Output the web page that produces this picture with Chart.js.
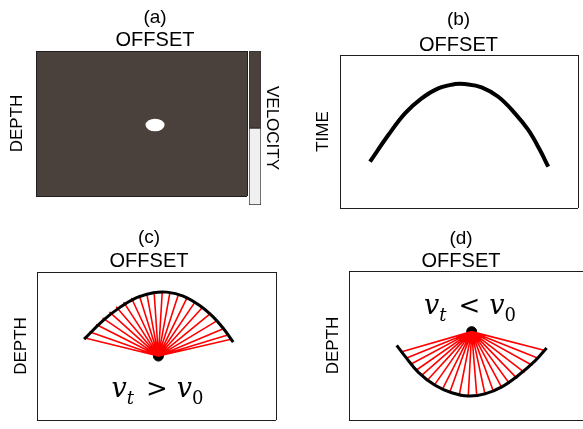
<!DOCTYPE html>
<html lang="en">
<head>
<meta charset="utf-8">
<title>Migration sketch</title>
<script src="https://cdn.jsdelivr.net/npm/chart.js@4.4.0/dist/chart.umd.min.js"></script>
<style>
  html, body { margin: 0; padding: 0; background: #fff; overflow: hidden; width: 583px; height: 429px; }
  canvas { position: absolute; }
</style>
</head>
<body>
<canvas id="panelA" width="296" height="206" style="left:7px;top:0px"></canvas>
<canvas id="barraA" width="33" height="158" style="left:249px;top:49px"></canvas>
<canvas id="panelB" width="291" height="210" style="left:313px;top:0px"></canvas>
<canvas id="panelC" width="276" height="206" style="left:11px;top:220px"></canvas>
<canvas id="panelD" width="276" height="206" style="left:323px;top:220px"></canvas>
<script>
// (a) modelo de velocidad: fondo + anomalia
const anomaliaX = [56.4];
const anomaliaY = [51];
const barraVelocidad = [0.5, 0.5]; // claro abajo, oscuro arriba

// (b) curva de tiempo
const offsetB = [12.6, 20.3, 27.3, 34.3, 41.3, 48.3, 52.5, 59.5, 66.5, 73.5, 79.1, 84.0, 87.5];
const tiempoB = [69.7, 52.3, 38.1, 28.3, 21.8, 19.0, 19.0, 21.1, 27.3, 38.1, 49.0, 62.1, 73.0];

// (c) vt > v0
const offsetC = [19.7, 27.7, 34.7, 41.7, 48.7, 54.3, 61.2, 68.2, 73.8, 78.0, 82.1];
const profC = [45.4, 32.7, 23.9, 17.3, 14.0, 13.6, 16.3, 22.8, 30.5, 38.2, 47.4];
const fuenteC = [50.8, 56.8];
const rayoXC = [20.1, 22.2, 25.0, 27.7, 30.5, 33.3, 36.4, 39.6, 42.8, 45.9, 49.0, 52.4, 55.6, 59.1, 62.6, 65.8, 68.9, 72.0, 74.9, 77.7, 79.8, 81.2];
const rayoYC = [44.6, 40.6, 35.7, 31.3, 27.3, 23.8, 20.7, 17.9, 15.9, 14.5, 13.7, 13.5, 14.1, 15.6, 18.0, 21.0, 24.5, 28.8, 33.4, 38.5, 42.6, 45.5];

// (d) vt < v0
const offsetD = [19.8, 23.2, 28.8, 35.7, 42.6, 49.5, 56.4, 63.4, 70.2, 77.2, 82.0];
const profD = [49.9, 57.1, 68.0, 76.7, 81.7, 83.9, 82.5, 77.8, 70.1, 60.3, 51.6];
const fuenteD = [50.9, 40.7];
const rayoXD = [21.9, 23.9, 26.0, 28.3, 30.5, 32.9, 35.7, 38.9, 41.9, 45.8, 49.5, 53.0, 56.4, 59.9, 63.4, 66.5, 69.6, 72.6, 75.8, 78.5, 81.3];
const rayoYD = [54.2, 58.4, 62.2, 66.1, 69.5, 72.7, 75.9, 78.9, 81.1, 82.9, 83.7, 83.4, 82.4, 80.7, 78.2, 75.3, 71.9, 67.9, 63.1, 58.5, 53.3];

const OSCURO = "#4a403c";
const CLARO = "#f0f0f0";
const BORDE = "#1e1e1e";

Chart.defaults.font.family = '"Liberation Sans", Arial, sans-serif';
Chart.defaults.color = "#000";
Chart.defaults.animation = false;
Chart.defaults.events = [];
Chart.defaults.plugins.legend.display = false;
Chart.defaults.plugins.tooltip.enabled = false;

const puntos = (xs, ys) => xs.map((x, i) => ({ x, y: ys[i] }));

function abanico(fuente, xs, ys) {
  const out = [];
  xs.forEach((x, i) => {
    out.push({ x: fuente[0], y: fuente[1] }, { x, y: ys[i] });
  });
  return out;
}

// pinta el fondo del area del grafico
const fondoArea = {
  id: "fondoArea",
  beforeDraw(chart, args, opts) {
    if (!opts.color) return;
    const { ctx, chartArea: a } = chart;
    ctx.save();
    ctx.fillStyle = opts.color;
    ctx.fillRect(a.left, a.top, a.right - a.left, a.bottom - a.top);
    ctx.restore();
  },
};

// texto v_t > v_0 con subindices
const rotuloVel = {
  id: "rotuloVel",
  afterDatasetsDraw(chart, args, opts) {
    const { ctx, scales } = chart;
    const cx = scales.x.getPixelForValue(opts.x);
    const base = scales.y.getPixelForValue(opts.y);
    const serif = '"DejaVu Serif", "Liberation Serif", serif';
    const piezas = [
      { t: "v", f: "italic 27px " + serif, dy: 0, sep: 0 },
      { t: "t", f: "italic 18px " + serif, dy: 7, sep: 12 },
      { t: opts.rel, f: "26px " + serif, dy: 0, sep: 9 },
      { t: "v", f: "italic 27px " + serif, dy: 0, sep: 0 },
      { t: "0", f: "18px " + serif, dy: 7, sep: 0 },
    ];
    ctx.save();
    ctx.fillStyle = "#000";
    ctx.textBaseline = "alphabetic";
    ctx.textAlign = "left";
    let total = 0;
    piezas.forEach((p) => {
      ctx.font = p.f;
      p.w = ctx.measureText(p.t).width;
      total += p.w + p.sep;
    });
    let x = cx - total / 2;
    piezas.forEach((p) => {
      ctx.font = p.f;
      ctx.fillText(p.t, x, base + p.dy);
      x += p.w + p.sep;
    });
    ctx.restore();
  },
};

function ejes(nombreY, anchoIzq, anchoDer) {
  return {
    x: {
      type: "linear", min: 0, max: 100, position: "bottom",
      ticks: { display: false, stepSize: 100 },
      grid: { color: BORDE, drawTicks: false },
      border: { display: false },
      afterFit: (s) => { s.height = 0; },
    },
    y: {
      type: "linear", min: 0, max: 100, reverse: true,
      ticks: { display: false, stepSize: 100 },
      grid: { color: BORDE, drawTicks: false },
      border: { display: false },
      title: { display: true, text: nombreY, font: { size: 17 }, padding: 0 },
      afterFit: (s) => { s.width = anchoIzq; },
    },
    derecha: {
      axis: "y", type: "linear", position: "right", min: 0, max: 1,
      ticks: { display: false },
      grid: { display: false },
      border: { display: false },
      afterFit: (s) => { s.width = anchoDer; },
    },
  };
}

function titulos(letra, padT, padS, padSB) {
  return {
    title: {
      display: true, text: letra,
      font: { size: 19, weight: "normal", lineHeight: 1 },
      padding: { top: padT, bottom: 0 },
    },
    subtitle: {
      display: true, text: "OFFSET",
      font: { size: 20, lineHeight: 1 },
      padding: { top: padS, bottom: padSB },
    },
  };
}

// forma eliptica de la anomalia
const elipse = document.createElement("canvas");
elipse.width = 20;
elipse.height = 14;
{
  const c = elipse.getContext("2d");
  c.fillStyle = "#fff";
  c.beginPath();
  c.ellipse(10, 7, 9.5, 6.3, 0, 0, Math.PI * 2);
  c.fill();
}

// (a)
new Chart(document.getElementById("panelA"), {
  type: "scatter",
  data: {
    datasets: [
      { data: puntos(anomaliaX, anomaliaY), pointStyle: elipse, pointRadius: 9 },
    ],
  },
  options: {
    responsive: false, devicePixelRatio: 1,
    layout: { padding: { bottom: 2 } },
    plugins: { ...titulos("(a)", 8.5, 2.5, 1), fondoArea: { color: OSCURO } },
    scales: ejes("DEPTH", 29, 56),
  },
  plugins: [fondoArea],
});

// barra de color
new Chart(document.getElementById("barraA"), {
  type: "bar",
  data: {
    labels: ["vel"],
    datasets: [
      { data: [barraVelocidad[0]], backgroundColor: CLARO },
      { data: [barraVelocidad[1]], backgroundColor: OSCURO },
    ],
  },
  options: {
    responsive: false, devicePixelRatio: 1,
    layout: { padding: { top: 2, bottom: 2 } },
    datasets: {
      bar: { barPercentage: 1, categoryPercentage: 1, borderWidth: 1, borderColor: "#333", borderSkipped: false },
    },
    scales: {
      x: { stacked: true, display: false },
      y: {
        stacked: true, min: 0, max: 1, position: "right",
        ticks: { display: false },
        grid: { display: false },
        border: { display: false },
        title: { display: true, text: "VELOCITY", font: { size: 17 }, padding: 0 },
        afterFit: (s) => { s.width = 21; },
      },
    },
  },
});

// (b)
new Chart(document.getElementById("panelB"), {
  type: "scatter",
  data: {
    datasets: [
      {
        data: puntos(offsetB, tiempoB), showLine: true, borderColor: "#000",
        borderWidth: 4, pointRadius: 0, tension: 0.4,
      },
    ],
  },
  options: {
    responsive: false, devicePixelRatio: 1,
    layout: { padding: { bottom: 2 } },
    plugins: titulos("(b)", 10.5, 5.5, 0),
    scales: ejes("TIME", 27, 26),
  },
});

function panelRayos(id, letra, xs, ys, fuente, rx, ry, rotulo, pads) {
  new Chart(document.getElementById(id), {
    type: "scatter",
    data: {
      datasets: [
        {
          data: puntos(xs, ys), showLine: true, borderColor: "#000",
          borderWidth: 3, pointRadius: 0, tension: 0.4,
        },
        {
          data: abanico(fuente, rx, ry), showLine: true, borderColor: "#ff0000",
          borderWidth: 1.6, pointRadius: 0, tension: 0, borderJoinStyle: "round",
        },
        {
          data: [{ x: fuente[0], y: fuente[1] }], pointRadius: 5,
          backgroundColor: "#000", borderColor: "#000",
        },
      ],
    },
    options: {
      responsive: false, devicePixelRatio: 1,
      layout: { padding: { bottom: 2 } },
      plugins: { ...titulos(letra, pads[0], pads[1], pads[2]), rotuloVel: rotulo },
      scales: ejes("DEPTH", 26, pads[3]),
    },
    plugins: [rotuloVel],
  });
}

panelRayos("panelC", "(c)", offsetC, profC, fuenteC, rayoXC, rayoYC,
  { x: 50.4, y: 84.7, rel: ">" }, [8.5, 3.5, 1, 11]);
panelRayos("panelD", "(d)", offsetD, profD, fuenteD, rayoXD, rayoYD,
  { x: 50.2, y: 28.8, rel: "<" }, [9, 3, 0, 9]);
</script>
</body>
</html>
